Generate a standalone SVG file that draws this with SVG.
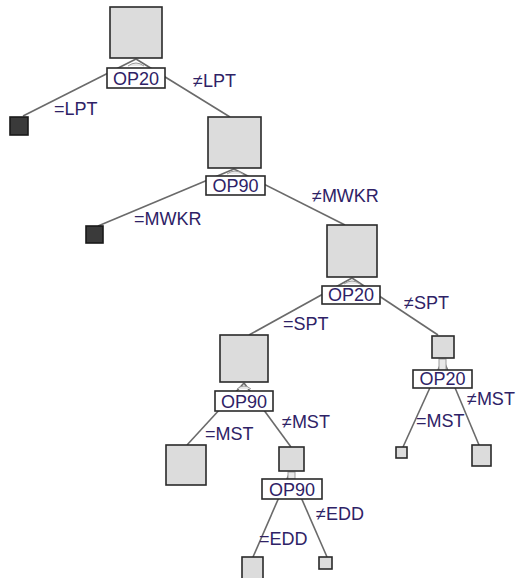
<svg xmlns="http://www.w3.org/2000/svg" width="516" height="578" viewBox="0 0 516 578">
<style>
.n{fill:#dcdcdc;stroke:#2a2a2a;stroke-width:1.6}
.d{fill:#3a3a3a;stroke:#1a1a1a;stroke-width:1.6}
.lb{fill:#ffffff;stroke:#2a2a2a;stroke-width:1.6}
.e{stroke:#6a6a6a;stroke-width:1.6;fill:none}
.s{stroke:#9a9a9a;stroke-width:1;fill:#e8e8e8}
text{font-family:"Liberation Sans",Arial,sans-serif;font-size:18px;fill:#2e2266}
.c{text-anchor:middle}
</style>
<rect width="516" height="578" fill="#ffffff"/>
<g id="connectors">
<line class="e" x1="136" y1="59" x2="23" y2="116"/>
<line class="e" x1="136" y1="59" x2="230" y2="117"/>
<line class="e" x1="234" y1="169" x2="98" y2="226"/>
<line class="e" x1="234" y1="169" x2="345" y2="225"/>
<line class="e" x1="352" y1="278" x2="249" y2="335"/>
<line class="e" x1="352" y1="278" x2="438" y2="335"/>
<line class="e" x1="244" y1="383" x2="187" y2="445"/>
<line class="e" x1="244" y1="383" x2="291" y2="447"/>
<line class="e" x1="443" y1="359" x2="403" y2="447"/>
<line class="e" x1="443" y1="359" x2="479" y2="445"/>
<line class="e" x1="290" y1="472" x2="253" y2="557"/>
<line class="e" x1="290" y1="472" x2="327" y2="557"/>
<path class="s" d="M128,66 Q136,60 144,66"/>
<path class="s" d="M227,174 Q235,168 243,174"/>
<path class="s" d="M344,284 Q352,278 360,284"/>
<path class="s" d="M237,389 Q244,383 251,389"/>
<rect class="s" x="439" y="359" width="7" height="11"/>
<rect class="s" x="288" y="472" width="7" height="7"/>
</g>
<g id="node1">
<rect class="n" x="110" y="7" width="52" height="51"/>
<rect class="lb" x="107" y="68" width="58" height="20"/>
<text class="c" x="136" y="85">OP20</text>
</g>
<g id="leaf1"><rect class="d" x="10" y="117" width="18" height="18"/></g>
<g id="node2">
<rect class="n" x="208" y="117" width="53" height="51"/>
<rect class="lb" x="206" y="176" width="59" height="19"/>
<text class="c" x="235.5" y="192">OP90</text>
</g>
<g id="leaf2"><rect class="d" x="86" y="226" width="17" height="17"/></g>
<g id="node3">
<rect class="n" x="327" y="225" width="50" height="52"/>
<rect class="lb" x="322" y="286" width="58" height="18"/>
<text class="c" x="351" y="301">OP20</text>
</g>
<g id="node4">
<rect class="n" x="220" y="335" width="48" height="47"/>
<rect class="lb" x="215" y="391" width="58" height="20"/>
<text class="c" x="244" y="408">OP90</text>
</g>
<g id="node5">
<rect class="n" x="432" y="336" width="22" height="22"/>
<rect class="lb" x="413" y="370" width="59" height="18"/>
<text class="c" x="442.5" y="385">OP20</text>
</g>
<g id="leaf3"><rect class="n" x="166" y="445" width="40" height="40"/></g>
<g id="node6">
<rect class="n" x="279" y="447" width="25" height="24"/>
<rect class="lb" x="262" y="479" width="60" height="20"/>
<text class="c" x="292" y="496">OP90</text>
</g>
<g id="leaf4"><rect class="n" x="396" y="447" width="11" height="11"/></g>
<g id="leaf5"><rect class="n" x="472" y="445" width="19" height="21"/></g>
<g id="leaf6"><rect class="n" x="242" y="557" width="21" height="22"/></g>
<g id="leaf7"><rect class="n" x="319" y="557" width="13" height="12"/></g>
<g id="edge-labels">
<text x="54" y="115">=LPT</text>
<text x="193" y="87">≠LPT</text>
<text x="134" y="225">=MWKR</text>
<text x="312" y="202">≠MWKR</text>
<text x="404" y="309">≠SPT</text>
<text x="283" y="330">=SPT</text>
<text x="282" y="428">≠MST</text>
<text x="205" y="440">=MST</text>
<text x="467" y="405">≠MST</text>
<text x="416" y="427">=MST</text>
<text x="316" y="520">≠EDD</text>
<text x="259" y="545">=EDD</text>
</g>
</svg>
